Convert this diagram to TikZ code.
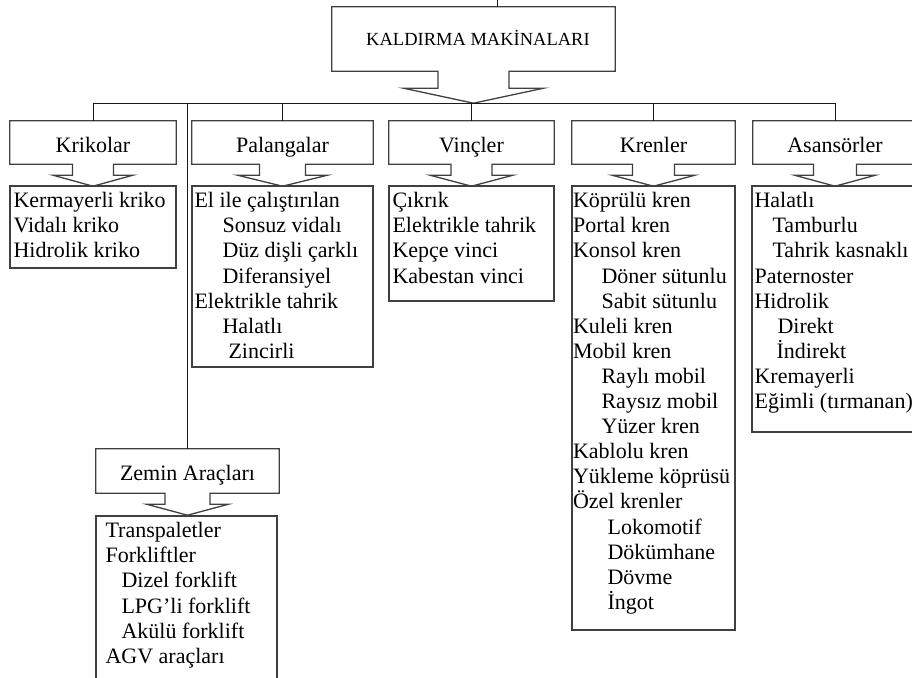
\documentclass[tikz,border=0pt]{standalone}
\usepackage{fontspec}
\setmainfont{Liberation Serif}
\usetikzlibrary{calc}
\tikzset{
  hdr/.style={rectangle, inner sep=0pt, font=\fontsize{22}{25}\selectfont, text height=19.5pt, text depth=0pt},
  ttl/.style={rectangle, inner sep=0pt, font=\fontsize{18.5}{22}\selectfont, text height=12.5pt, text depth=0pt},
  lbox/.style={draw=black!75, line width=1.3pt, rectangle, inner sep=0pt},
  lst/.style={anchor=north west, inner sep=0pt, align=left, font=\fontsize{22}{25.1}\selectfont},
  conn/.style={draw=black!90, line width=1pt},
  callline/.style={draw=black!75, line width=1.3pt, line join=miter}
}
% #1 node, #2 neck half width, #3 wing half width, #4 neck depth, #5 tip depth (from box bottom)
\newcommand\calloutbox[5]{%
  \draw[callline] (#1.north west) -- (#1.north east) -- (#1.south east)
    -- ([xshift=#2pt]#1.south) -- ([xshift=#2pt,yshift=-#4pt]#1.south)
    -- ([xshift=#3pt,yshift=-#4pt]#1.south) -- ([yshift=-#5pt]#1.south)
    -- ([xshift=-#3pt,yshift=-#4pt]#1.south) -- ([xshift=-#2pt,yshift=-#4pt]#1.south)
    -- ([xshift=-#2pt]#1.south) -- (#1.south west) -- cycle;}
\begin{document}
\begin{tikzpicture}[x=1pt,y=-1pt]
\clip (0,0) rectangle (912,677);
\fill[white] (0,0) rectangle (912,677);

% title
\node[ttl, minimum width=283pt, minimum height=64pt] (title) at (473.5,39) {\hspace*{9pt}KALDIRMA MAKİNALARI};
\calloutbox{title}{35.5}{70}{17}{32}
\coordinate (tick) at (497,0);
\draw[conn] (tick) -- (tick |- title.north);

% headers
\node[hdr, minimum width=166pt, minimum height=43pt] (krik) at (93,142.5) {Krikolar};
\node[hdr, minimum width=181pt, minimum height=43pt] (pal) at (282.5,142.5) {Palangalar};
\node[hdr, minimum width=165pt, minimum height=43pt] (vinc) at (471.5,142.5) {Vinçler};
\node[hdr, minimum width=163pt, minimum height=43pt] (kren) at (653.5,142.5) {Krenler};
\node[hdr, minimum width=164pt, minimum height=43pt] (asan) at (835,142.5) {Asansörler};
\node[hdr, minimum width=183pt, minimum height=44pt] (zem) at (187.5,471) {Zemin Araçları};

\calloutbox{krik}{20.5}{40}{11}{22}
\calloutbox{pal}{23}{45}{11}{22}
\calloutbox{vinc}{20.5}{41.5}{11}{22}
\calloutbox{kren}{21}{41.5}{11}{22}
\calloutbox{asan}{21.5}{40.5}{11}{22}
\calloutbox{zem}{22.5}{41}{11}{22}

% bus and connectors
\coordinate (bus) at (0,103);
\draw[conn] (krik.north) -- (krik.north |- bus) -- (asan.north |- bus) -- (asan.north);
\draw[conn] (pal.north) -- (pal.north |- bus);
\draw[conn] (vinc.north) -- (vinc.north |- bus);
\draw[conn] (kren.north) -- (kren.north |- bus);
\draw[conn] (zem.north) -- (zem.north |- bus);

% list boxes
\node[lbox, minimum width=166pt, minimum height=82pt] (krikL) at (93,227) {};
\node[lbox, minimum width=181pt, minimum height=181pt] (palL) at (282.5,276.5) {};
\node[lbox, minimum width=165pt, minimum height=115pt] (vincL) at (471.5,243.5) {};
\node[lbox, minimum width=163pt, minimum height=444pt] (krenL) at (653.5,408) {};
\node[lbox, minimum width=165pt, minimum height=246pt] (asanL) at (834.5,309) {};
\node[lbox, minimum width=181pt, minimum height=180pt] (zemL) at (186.5,606) {};

% list texts
\node[lst] (krikT) at ([xshift=4pt,yshift=-4.6pt]krikL.north west)
  {\strut Kermayerli kriko\\Vidalı kriko\\Hidrolik kriko};
\node[lst] (palT) at ([xshift=3pt,yshift=-4.6pt]palL.north west)
  {\strut El ile çalıştırılan\\\hspace*{28pt}Sonsuz vidalı\\\hspace*{28pt}Düz dişli çarklı\\\hspace*{28pt}Diferansiyel\\Elektrikle tahrik\\\hspace*{28pt}Halatlı\\\hspace*{34pt}Zincirli};
\node[lst] (vincT) at ([xshift=4pt,yshift=-4.6pt]vincL.north west)
  {\strut Çıkrık\\Elektrikle tahrik\\Kepçe vinci\\Kabestan vinci};
\node[lst] (krenT) at ([xshift=1.5pt,yshift=-4.6pt]krenL.north west)
  {\strut Köprülü kren\\Portal kren\\Konsol kren\\\hspace*{28.5pt}Döner sütunlu\\\hspace*{28.5pt}Sabit sütunlu\\Kuleli kren\\Mobil kren\\\hspace*{28.5pt}Raylı mobil\\\hspace*{28.5pt}Raysız mobil\\\hspace*{28.5pt}Yüzer kren\\Kablolu kren\\Yükleme köprüsü\\Özel krenler\\\hspace*{34.5pt}Lokomotif\\\hspace*{34.5pt}Dökümhane\\\hspace*{34.5pt}Dövme\\\hspace*{34.5pt}İngot};
\node[lst] (asanT) at ([xshift=3pt,yshift=-4.6pt]asanL.north west)
  {\strut Halatlı\\\hspace*{18pt}Tamburlu\\\hspace*{18pt}Tahrik kasnaklı\\Paternoster\\Hidrolik\\\hspace*{23pt}Direkt\\\hspace*{22pt}İndirekt\\Kremayerli\\Eğimli (tırmanan)};
\node[lst] (zemT) at ([xshift=10pt,yshift=-4.6pt]zemL.north west)
  {\strut Transpaletler\\Forkliftler\\\hspace*{16pt}Dizel forklift\\\hspace*{16pt}LPG’li forklift\\\hspace*{16pt}Akülü forklift\\AGV araçları};
\end{tikzpicture}
\end{document}
